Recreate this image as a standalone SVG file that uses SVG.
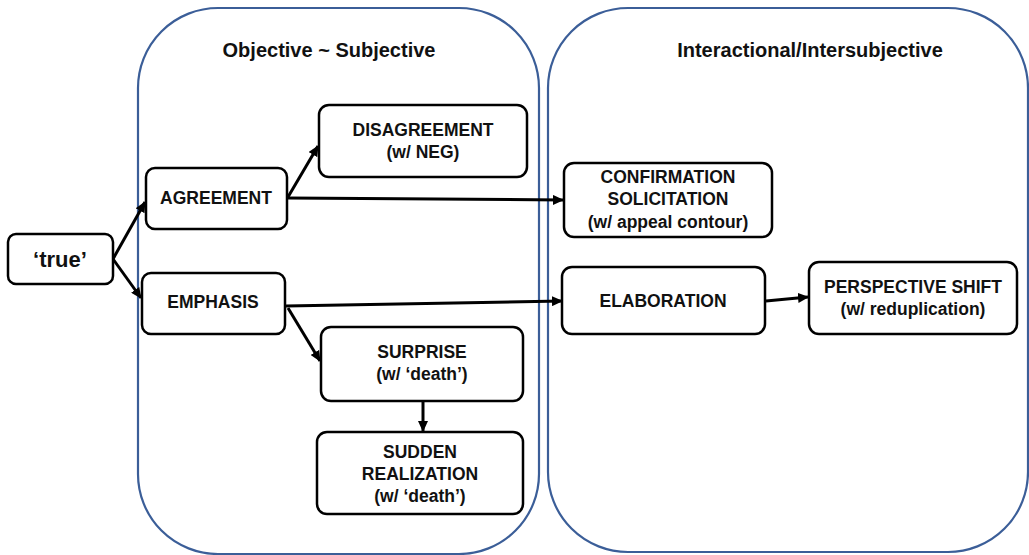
<svg xmlns="http://www.w3.org/2000/svg" width="1029" height="555" viewBox="0 0 1029 555">
<defs>
<marker id="ah" markerUnits="userSpaceOnUse" markerWidth="12" markerHeight="10" refX="10" refY="5" orient="auto">
<path d="M0,0 L11,5 L0,10 Z" fill="#000"/>
</marker>
<style>
.cont{fill:none;stroke:#3B5E98;stroke-width:2.2}
.node{fill:#fff;stroke:#000;stroke-width:2.5}
.t{font-family:"Liberation Sans",Arial,sans-serif;font-weight:bold;font-size:17.5px;fill:#111;text-anchor:middle}
.title{font-family:"Liberation Sans",Arial,sans-serif;font-weight:bold;font-size:20px;fill:#111;text-anchor:middle}
.c{fill:none;stroke:#000;stroke-width:3;marker-end:url(#ah)}
</style>
</defs>
<rect width="1029" height="555" fill="#fff"/>
<g id="containers">
<rect id="objective-subjective" class="cont" x="138" y="8" width="401" height="546" rx="80" ry="80"/>
<rect id="interactional" class="cont" x="548" y="8" width="480" height="544" rx="80" ry="80"/>
<text class="title" x="329" y="57">Objective ~ Subjective</text>
<text class="title" x="810" y="57">Interactional/Intersubjective</text>
</g>
<g id="connectors">
<path class="c" d="M113,259 L145,202"/>
<path class="c" d="M113,259 L141,298"/>
<path class="c" d="M288,197 L318,146"/>
<path class="c" d="M288,198 L563,200"/>
<path class="c" d="M286,306 L562,301"/>
<path class="c" d="M288,308 L320,361"/>
<path class="c" d="M423,401 L423,431"/>
<path class="c" d="M766,301 L808,297"/>
</g>
<g id="node-true">
<rect class="node" x="8" y="234" width="105" height="50" rx="8"/>
<text class="t" x="60" y="267" style="font-size:22px">‘true’</text>
</g>
<g id="node-agreement">
<rect class="node" x="146" y="168" width="141" height="61" rx="9"/>
<text class="t" x="216" y="204">AGREEMENT</text>
</g>
<g id="node-emphasis">
<rect class="node" x="142" y="273" width="143" height="61" rx="9"/>
<text class="t" x="213" y="308">EMPHASIS</text>
</g>
<g id="node-disagreement">
<rect class="node" x="319" y="105" width="208" height="72" rx="10"/>
<text class="t" x="423" y="136">DISAGREEMENT</text>
<text class="t" x="423" y="158">(w/ NEG)</text>
</g>
<g id="node-confirmation">
<rect class="node" x="564" y="163" width="208" height="74" rx="10"/>
<text class="t" x="668" y="183">CONFIRMATION</text>
<text class="t" x="668" y="205">SOLICITATION</text>
<text class="t" x="668" y="228">(w/ appeal contour)</text>
</g>
<g id="node-elaboration">
<rect class="node" x="562" y="267" width="203" height="67" rx="10"/>
<text class="t" x="663" y="307">ELABORATION</text>
</g>
<g id="node-perspective">
<rect class="node" x="809" y="262" width="208" height="72" rx="10"/>
<text class="t" x="913" y="293">PERSPECTIVE SHIFT</text>
<text class="t" x="913" y="315">(w/ reduplication)</text>
</g>
<g id="node-surprise">
<rect class="node" x="321" y="327" width="202" height="74" rx="10"/>
<text class="t" x="422" y="358">SURPRISE</text>
<text class="t" x="422" y="380">(w/ ‘death’)</text>
</g>
<g id="node-sudden">
<rect class="node" x="317" y="432" width="206" height="82" rx="10"/>
<text class="t" x="420" y="458">SUDDEN</text>
<text class="t" x="420" y="480">REALIZATION</text>
<text class="t" x="420" y="502">(w/ ‘death’)</text>
</g>
</svg>
